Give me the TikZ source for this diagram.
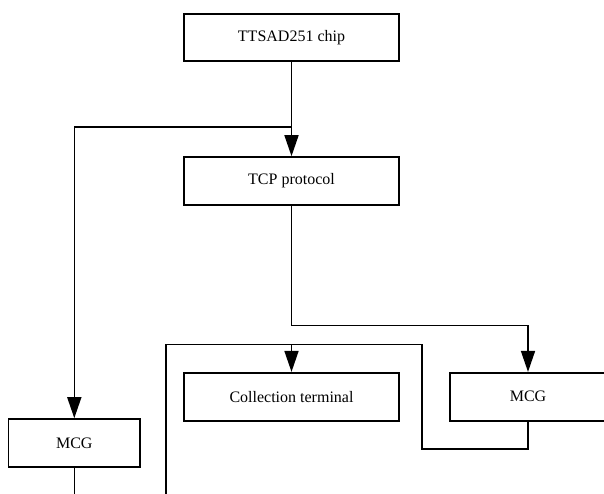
\documentclass[tikz,border=0pt]{standalone}
\usepackage{fontspec}
\setmainfont{Liberation Serif}
\usetikzlibrary{arrows.meta}
\begin{document}
\begin{tikzpicture}[x=1pt,y=-1pt,
  box/.style={draw,line width=1.6pt,inner sep=0pt,minimum height=48pt,
              font=\fontsize{16}{19}\selectfont},
  link/.style={line width=1.6pt},
  arr/.style={link,-{Triangle[length=21pt,width=14pt]}}]
\useasboundingbox (0,0) rectangle (604,493);
\clip (0,0) rectangle (604,493);

% blocks
\node[box,minimum width=215pt,minimum height=47pt] (top)  at (291.5,37.5) {TTSAD251 chip};
\node[box,minimum width=215pt] (tcp)  at (291.5,181)  {TCP protocol};
\node[box,minimum width=215pt] (coll) at (291.5,396.7) {Collection terminal};
\node[box,minimum width=156pt] (mcgR) at (528,396.7)   {MCG};
\node[box,minimum width=131.5pt] (mcgL) at (74.3,443)  {MCG};

% junctions and free ends
\coordinate (j1) at (291.5,127);
\coordinate (j2) at (291.5,325.3);
\coordinate (j3) at (291.5,344.3);
\coordinate (r1) at (422,449);
\coordinate (r2) at (422,344.3);
\coordinate (r3) at (166,344.3);
\coordinate (r4) at (166,500);
\coordinate (l1) at (74.3,500);

% connectors
\draw[arr] (top.south) -- (tcp.north);
\draw[arr] (j1) -| (mcgL.north);
\draw[arr] (tcp.south) -- (j2) -| (mcgR.north);
\draw[link] (mcgR.south) |- (r1) -- (r2) -- (r3) -- (r4);
\draw[arr] (j3) -- (coll.north);
\draw[link] (mcgL.south) -- (l1);
\end{tikzpicture}
\end{document}
